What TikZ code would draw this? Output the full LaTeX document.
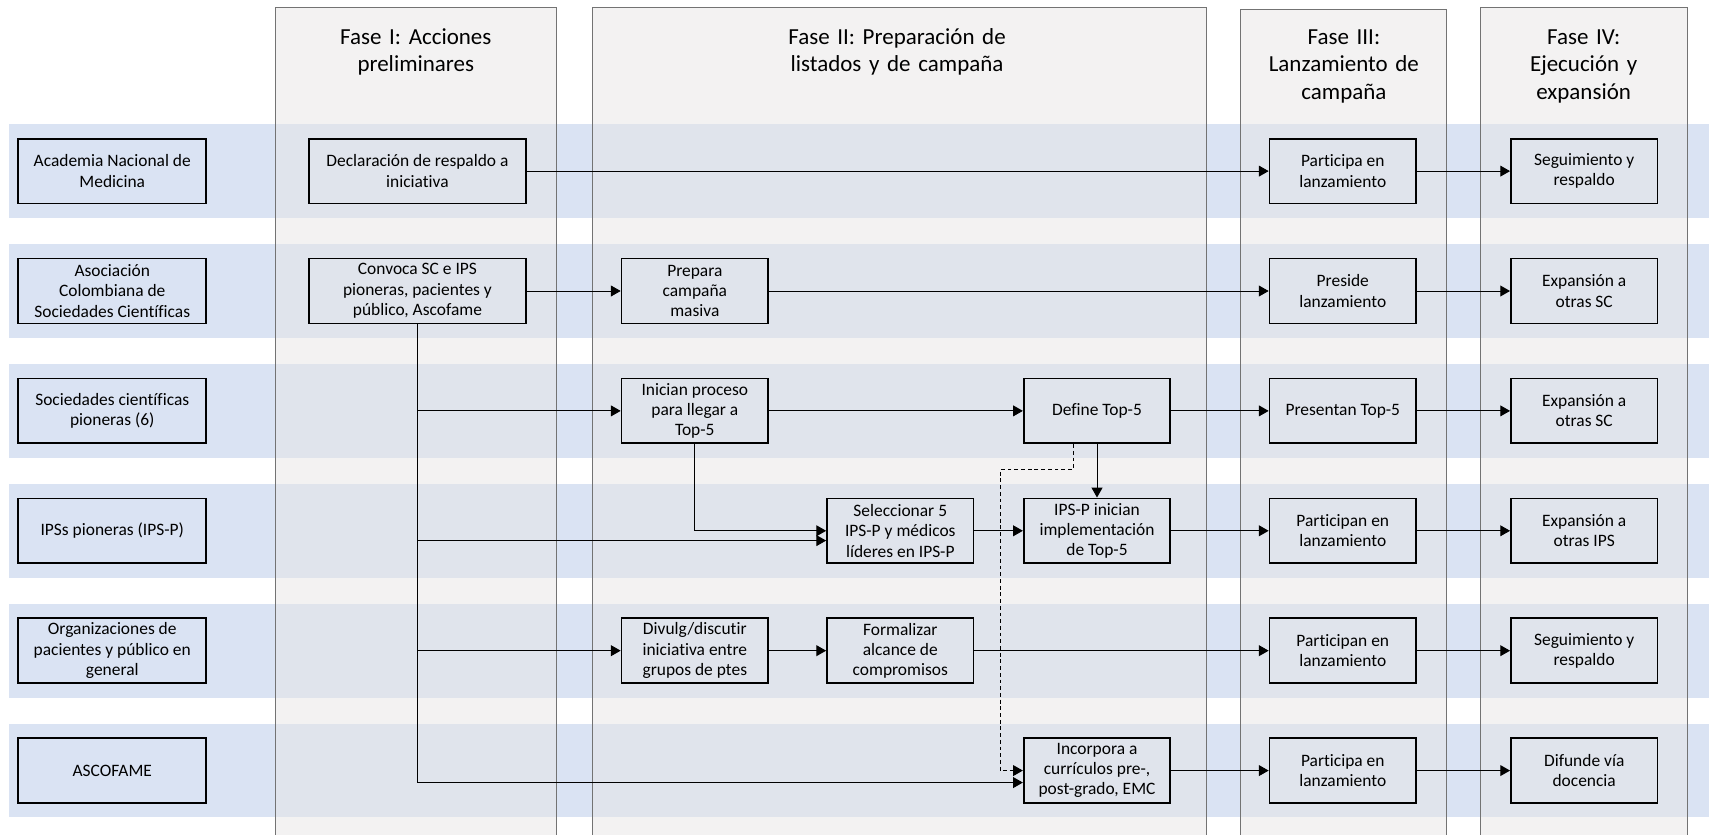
\documentclass[tikz,border=0pt]{standalone}
\usepackage{fontspec}
\setmainfont[Ligatures=NoCommon]{Carlito}
\usepackage{tikz}
\usetikzlibrary{arrows.meta}

\definecolor{bandblue}{HTML}{DAE3F3}
\definecolor{phasegray}{HTML}{E7E6E6}

\tikzset{
  box/.style={draw, line width=0.9pt, align=center, minimum height=1.19cm, inner sep=2pt, font=\fontsize{9.1}{10.6}\selectfont},
  lab/.style={box, minimum width=3.45cm},
  wbox/.style={box, minimum width=3.98cm},
  nbox/.style={box, minimum width=2.69cm},
  head/.style={text width=5cm, align=center, anchor=base, inner sep=0pt, font=\fontsize{12}{14.4}\selectfont},
  panel/.style={draw=black!55, line width=0.5pt},
  conn/.style={line width=0.5pt, -{Triangle[length=1.8mm,width=2mm]}}
}

\begin{document}
\begin{tikzpicture}[x=0.02cm, y=-0.02cm]
        \useasboundingbox (0,0) rectangle (1568,766);

        \foreach \k in {0,...,5}
            \fill[bandblue] (8,{114+110*\k}) rectangle (1568,{200+110*\k});

        \foreach \l/\r/\t in {252.5/510.5/7, 544/1107/7, 1138.5/1327.5/9, 1358.5/1548/7} {
            \fill[phasegray, opacity=0.5] (\l,\t) rectangle (\r,780);
            \draw[panel] (\l,780) -- (\l,\t) -- (\r,\t) -- (\r,780);
        }

        \node[head] (h1) at (381.5, 40.7) {Fase I: Acciones\\preliminares};
        \node[head] (h2) at (823, 40.7) {Fase II: Preparación de\\listados y de campaña};
        \node[head] (h3) at (1233, 40.7) {Fase III:\\Lanzamiento de\\campaña};
        \node[head] (h4) at (1453, 40.7) {Fase IV:\\Ejecución y\\expansión};

        \node[lab] (lab1) at (103, 157) {Academia Nacional de\\Medicina};
        \node[lab] (lab2) at (103, 267) {Asociación\\Colombiana de\\Sociedades Científicas};
        \node[lab] (lab3) at (103, 377) {Sociedades científicas\\pioneras (6)};
        \node[lab] (lab4) at (103, 487) {IPSs pioneras (IPS-P)};
        \node[lab] (lab5) at (103, 597) {Organizaciones de\\pacientes y público en\\general};
        \node[lab] (lab6) at (103, 707) {ASCOFAME};

        \node[wbox] (dec) at (383, 157) {Declaración de respaldo a\\iniciativa};
        \node[wbox] (conv) at (383, 267) {Convoca SC e IPS\\pioneras, pacientes y\\público, Ascofame};

        \node[nbox] (prep) at (637.5, 267) {Prepara\\campaña\\masiva};
        \node[nbox] (ini) at (637.5, 377) {Inician proceso\\para llegar a\\Top-5};
        \node[nbox] (def) at (1006.5, 377) {Define Top-5};
        \node[nbox] (sel) at (826, 487) {Seleccionar 5\\IPS-P y médicos\\líderes en IPS-P};
        \node[nbox] (imp) at (1006.5, 487) {IPS-P inician\\implementación\\de Top-5};
        \node[nbox] (div) at (637.5, 597) {Divulg/discutir\\iniciativa entre\\grupos de ptes};
        \node[nbox] (form) at (826, 597) {Formalizar\\alcance de\\compromisos};
        \node[nbox] (inc) at (1006.5, 707) {Incorpora a\\currículos pre-,\\post-grado, EMC};

        \node[nbox] (p1) at (1232, 157) {Participa en\\lanzamiento};
        \node[nbox] (p2) at (1232, 267) {Preside\\lanzamiento};
        \node[nbox] (p3) at (1232, 377) {Presentan Top-5};
        \node[nbox] (p4) at (1232, 487) {Participan en\\lanzamiento};
        \node[nbox] (p5) at (1232, 597) {Participan en\\lanzamiento};
        \node[nbox] (p6) at (1232, 707) {Participa en\\lanzamiento};

        \node[nbox] (e1) at (1453.5, 157) {Seguimiento y\\respaldo};
        \node[nbox] (e2) at (1453.5, 267) {Expansión a\\otras SC};
        \node[nbox] (e3) at (1453.5, 377) {Expansión a\\otras SC};
        \node[nbox] (e4) at (1453.5, 487) {Expansión a\\otras IPS};
        \node[nbox] (e5) at (1453.5, 597) {Seguimiento y\\respaldo};
        \node[nbox] (e6) at (1453.5, 707) {Difunde vía\\docencia};

        \coordinate (dk) at (917.6, 431);

        \draw[conn] (dec) edge (p1)
              (p1) edge (e1)
              (conv) edge (prep)
              (prep) edge (p2)
              (p2) edge (e2)
              (ini) edge (def)
              (def) edge (p3)
              (p3) edge (e3)
              (def) edge (imp)
              (sel) edge (imp)
              (imp) edge (p4)
              (p4) edge (e4)
              (div) edge (form)
              (form) edge (p5)
              (p5) edge (e5)
              (inc) edge (p6)
              (p6) edge (e6);

        \draw[conn] (conv.south) |- (ini);
        \draw[conn] (conv.south) |- ([yshift=-0.18cm]sel.west);
        \draw[conn] (conv.south) |- (div);
        \draw[conn] (conv.south) |- ([yshift=-0.22cm]inc.west);
        \draw[conn] (ini) |- (sel);
        \draw[conn, dash pattern=on 2pt off 1.5pt] ([xshift=-0.44cm]def.south) |- (dk) |- (inc);
    \end{tikzpicture}
\end{document}
